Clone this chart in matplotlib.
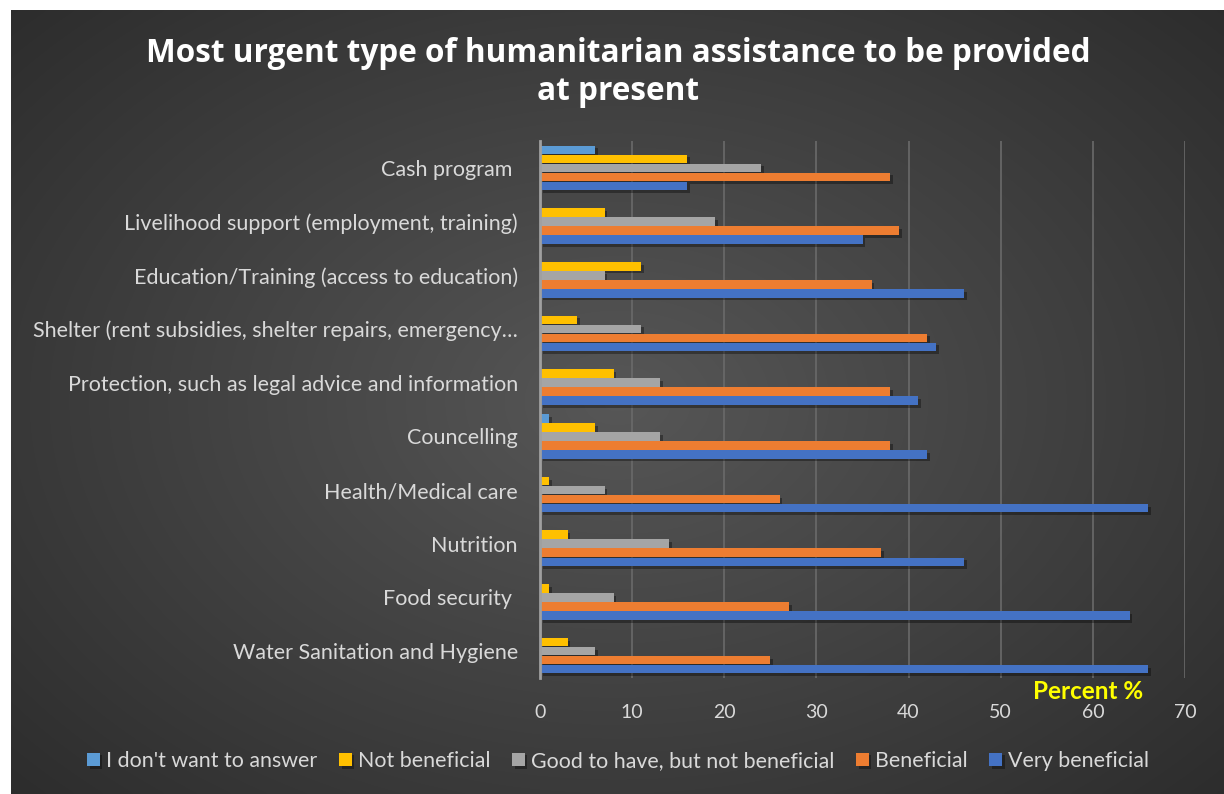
import numpy as np
import matplotlib.pyplot as plt
import matplotlib.patheffects as pe

categories = ['Water Sanitation and Hygiene', 'Food security ', 'Nutrition', 'Health/Medical care',
              'Councelling', 'Protection, such as legal advice and information',
              'Shelter (rent subsidies, shelter repairs, emergency\u2026',
              'Education/Training (access to education)', 'Livelihood support (employment, training)',
              'Cash program ']

very_beneficial = [66, 64, 46, 66, 42, 41, 43, 46, 35, 16]
beneficial = [25, 27, 37, 26, 38, 38, 42, 36, 39, 38]
good_to_have = [6, 8, 14, 7, 13, 13, 11, 7, 19, 24]
not_beneficial = [3, 1, 3, 1, 6, 8, 4, 11, 7, 16]
no_answer = [0, 0, 0, 0, 1, 0, 0, 0, 0, 6]

series_names = ["I don't want to answer", 'Not beneficial', 'Good to have, but not beneficial',
                'Beneficial', 'Very beneficial']
series_values = [no_answer, not_beneficial, good_to_have, beneficial, very_beneficial]
series_colors = ['#5B9BD5', '#FFC000', '#A5A5A5', '#ED7D31', '#4472C4']

W, H = 1224, 794
fig = plt.figure(figsize=(W / 100, H / 100), dpi=100, facecolor='white')

# dark panel with a soft radial gradient
bg = fig.add_axes([11 / W, 0, 1 - 11 / W, 1 - 10 / H])
bg.set_axis_off()
yy, xx = np.mgrid[0:1:400j, 0:1:600j]
r = np.sqrt(((xx - 0.5) / 0.75) ** 2 + ((yy - 0.5) / 0.8) ** 2)
shade = np.clip(0.34 - 0.18 * r, 0.15, 0.34)
bg.imshow(np.dstack([shade] * 3), extent=[0, 1, 0, 1], aspect='auto', interpolation='bicubic')

ax = fig.add_axes([540 / W, 1 - 678 / H, (1185 - 540) / W, (678 - 141) / H])
ax.set_facecolor('none')

y = np.arange(len(categories))
h = 0.168
for i, (name, vals, col) in enumerate(zip(series_names, series_values, series_colors)):
    offs = (2 - i) * h
    ax.barh(y + offs, vals, height=h * 0.95, color=col, label=name, zorder=3,
            path_effects=[pe.SimplePatchShadow(offset=(2, -2), shadow_rgbFace='black', alpha=0.35),
                          pe.Normal()])

ax.set_xlim(0, 70)
ax.set_ylim(-0.5, 9.5)
ax.set_xticks(range(0, 71, 10))
ax.grid(axis='x', color='#6a6a6a', linewidth=1.2, zorder=0)
ax.set_yticks(y)
ax.set_yticklabels(categories, fontsize=15.5, color='#d9d9d9', family='Lato')
for lab in ax.get_xticklabels():
    lab.set_fontfamily('Lato')
ax.tick_params(axis='x', colors='#d9d9d9', labelsize=14, length=0, pad=19)
ax.tick_params(axis='y', length=0, pad=16)
for s in ['top', 'right', 'bottom']:
    ax.spines[s].set_visible(False)
ax.spines['left'].set_color('#a0a0a0')
ax.spines['left'].set_linewidth(2)
ax.spines['left'].set_zorder(4)

ax.text(65.5, -0.76, 'Percent %', color='#FFFF00', fontsize=17.5, fontweight='bold',
        family='Lato', ha='right', va='center')

fig.text(0.505, 1 - 53 / H, 'Most urgent type of humanitarian assistance to be provided',
         ha='center', va='center', color='white', fontsize=22.7, fontweight='bold',
         family='Open Sans')
fig.text(0.505, 1 - 91 / H, 'at present', ha='center', va='center', color='white',
         fontsize=22.7, fontweight='bold', family='Open Sans')

leg = fig.legend(loc='center', bbox_to_anchor=(0.505, 1 - 761 / H), ncol=5, frameon=False,
                 handlelength=0.6, handleheight=0.6, handletextpad=0.3,
                 columnspacing=1.0, prop={'family': 'Lato', 'size': 15.4})
for t in leg.get_texts():
    t.set_color('#d9d9d9')

fig.savefig('out.png', dpi=100, facecolor='white')
